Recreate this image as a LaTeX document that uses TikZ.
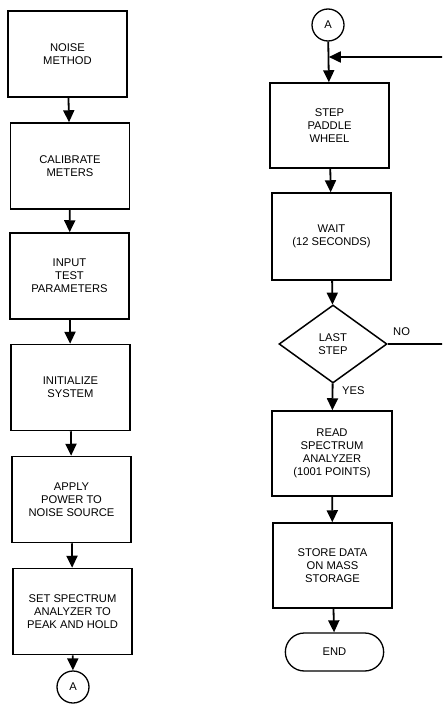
\documentclass[tikz,border=0pt]{standalone}
\usepackage{fontspec}
\setmainfont{Liberation Sans}
\usetikzlibrary{shapes.geometric,shapes.misc,arrows.meta}
\begin{document}
\begin{tikzpicture}[x=1pt,y=-1pt,
  font=\fontsize{11.2}{13}\selectfont,
  box/.style={draw,line width=1.5pt,minimum width=119pt,minimum height=86pt,align=center,inner sep=2pt},
  conn/.style={draw,circle,line width=1.3pt,minimum size=32pt,inner sep=0pt},
  decide/.style={draw,diamond,line width=1.5pt,minimum width=108pt,minimum height=78pt,inner sep=0pt,align=center},
  term/.style={draw,rounded rectangle,line width=1.3pt,minimum width=105pt,minimum height=38pt},
  flow/.style={line width=1.8pt,-{Triangle[length=12pt,width=11pt]}},
  lbl/.style={inner sep=0pt}]
\clip (0,0) rectangle (442,712);
% left column
\node[box] (b1) at (67.5,54) {NOISE\\METHOD};
\node[box] (b2) at (70,166) {CALIBRATE\\METERS};
\node[box] (b3) at (69.5,276) {INPUT\\TEST\\PARAMETERS};
\node[box] (b4) at (70.5,387.5) {INITIALIZE\\SYSTEM};
\node[box] (b5) at (71.5,499.5) {APPLY\\POWER TO\\NOISE SOURCE};
\node[box] (b6) at (72.5,611.5) {SET SPECTRUM\\ANALYZER TO\\PEAK AND HOLD};
\node[conn] (a1) at (73,687) {A};
\draw[flow] (b1) -- (b2);
\draw[flow] (b2) -- (b3);
\draw[flow] (b3) -- (b4);
\draw[flow] (b4) -- (b5);
\draw[flow] (b5) -- (b6);
\draw[flow] (b6) -- (a1);
% right column
\node[conn] (a2) at (328,25) {A};
\node[box,minimum height=85pt] (s1) at (329.5,125.5) {STEP\\PADDLE\\WHEEL};
\node[box,minimum height=87pt] (s2) at (331.5,236.5) {WAIT\\(12 SECONDS)};
\node[decide] (d) at (333,344) {LAST\\STEP};
\node[box,minimum width=120pt,minimum height=85pt] (s3) at (332,453.5) {READ\\SPECTRUM\\ANALYZER\\(1001 POINTS)};
\node[box,minimum height=85pt] (s4) at (332.5,565.5) {STORE DATA\\ON MASS\\STORAGE};
\node[term] (e) at (334.5,652) {END};
\coordinate (j) at (328.8,57);
\coordinate (r) at (446,344);
\draw[flow] (a2) -- (s1);
\draw[flow] (s1) -- (s2);
\draw[flow] (s2) -- (d);
\draw[flow] (d) -- (s3);
\draw[flow] (s3) -- (s4);
\draw[flow] (s4) -- (e);
\draw[flow] (d.east) -- (r) |- (j);
\node[lbl,anchor=west] (no) at (393,332) {NO};
\node[lbl,anchor=west] (yes) at (342,391) {YES};
\end{tikzpicture}
\end{document}
